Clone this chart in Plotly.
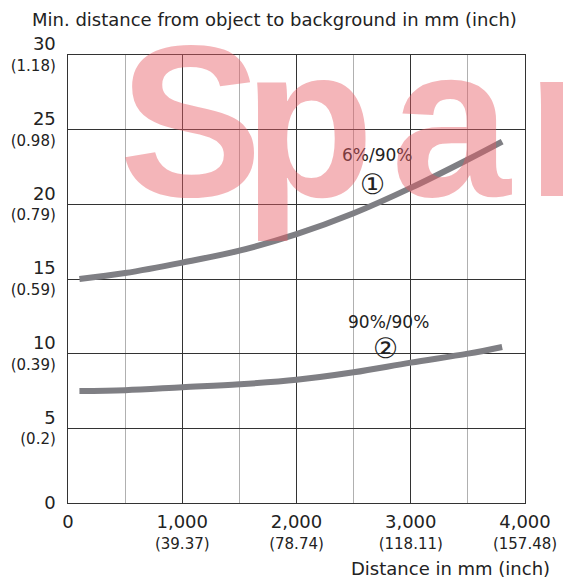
import plotly.graph_objects as go

# ---- data ----
x_curve1 = [100, 500, 1000, 1500, 2000, 2500, 3000, 3500, 3800]
y_curve1 = [15.0, 15.4, 16.1, 16.9, 18.0, 19.4, 21.1, 23.0, 24.2]
x_curve2 = [100, 500, 1000, 1500, 2000, 2500, 3000, 3500, 3800]
y_curve2 = [7.5, 7.55, 7.75, 7.95, 8.25, 8.75, 9.4, 10.0, 10.45]

x_tickvals = [0, 1000, 2000, 3000, 4000]
x_tick_mm = ["0", "1,000", "2,000", "3,000", "4,000"]
x_tick_in = ["", "(39.37)", "(78.74)", "(118.11)", "(157.48)"]
y_tickvals = [0, 5, 10, 15, 20, 25, 30]
y_tick_mm = ["0", "5", "10", "15", "20", "25", "30"]
y_tick_in = ["", "(0.2)", "(0.39)", "(0.59)", "(0.79)", "(0.98)", "(1.18)"]

label1 = "6%/90%"
label2 = "90%/90%"
num1 = "①"
num2 = "②"
watermark_letters = ["S", "p", "a", "r"]

FONT = "DejaVu Sans"
TXT = "#222222"
W, H = 563, 584
ML, MR, MT, MB = 68, 38, 55, 81
PW, PH = W - ML - MR, H - MT - MB


def px(x):
    return (x - ML) / PW


def py(y):
    return (H - MB - y) / PH


def two_line(a, b):
    main = f"<span style='font-size:18px'>{a}</span>"
    if not b:
        return main
    return f"{main}<br><span style='font-size:15px'>{b}</span>"


fig = go.Figure()
for xs, ys in [(x_curve1, y_curve1), (x_curve2, y_curve2)]:
    fig.add_trace(go.Scatter(
        x=xs, y=ys, mode="lines",
        line=dict(color="#7f7f84", width=6, shape="spline", smoothing=1.0),
        showlegend=False, hoverinfo="skip",
    ))

fig.update_layout(
    width=W, height=H,
    margin=dict(l=ML, r=MR, t=MT, b=MB, pad=0),
    paper_bgcolor="white", plot_bgcolor="white",
    font=dict(family=FONT, color=TXT, size=18),
    xaxis=dict(
        range=[0, 4000], tickmode="array", tickvals=x_tickvals,
        ticktext=[two_line(a, b) for a, b in zip(x_tick_mm, x_tick_in)],
        showgrid=True, gridcolor="#333333", gridwidth=1,
        minor=dict(tickmode="linear", tick0=0, dtick=500, showgrid=True,
                   gridcolor="#b0b0b0", gridwidth=1),
        showline=True, linecolor="#333333", linewidth=1, mirror=True,
        zeroline=False, ticks="", ticklabelstandoff=5, automargin=False,
        tickfont=dict(size=16, color=TXT),
    ),
    yaxis=dict(
        range=[0, 30], tickmode="array", tickvals=y_tickvals,
        ticktext=[two_line(a, b) for a, b in zip(y_tick_mm, y_tick_in)],
        showgrid=True, gridcolor="#333333", gridwidth=1,
        showline=True, linecolor="#333333", linewidth=1, mirror=True,
        zeroline=False, ticks="", ticklabelstandoff=8, automargin=False,
        tickfont=dict(size=16, color=TXT),
    ),
)

annos = [
    dict(text="Min. distance from object to background in mm (inch)",
         x=px(30), y=py(19), xanchor="left", yanchor="middle", font=dict(size=18)),
    dict(text="Distance in mm (inch)",
         x=px(552), y=py(568), xanchor="right", yanchor="middle", font=dict(size=18)),
    dict(text=label1, x=px(377), y=py(155), xanchor="center", yanchor="middle", font=dict(size=17)),
    dict(text=num1, x=px(372), y=py(184), xanchor="center", yanchor="middle", font=dict(size=28)),
    dict(text=label2, x=px(388), y=py(322), xanchor="center", yanchor="middle", font=dict(size=17)),
    dict(text=num2, x=px(385), y=py(348), xanchor="center", yanchor="middle", font=dict(size=28)),
]
for a in annos:
    fig.add_annotation(xref="paper", yref="paper", showarrow=False, **a)

# pink watermark on top
wm_centers = [190, 308, 451, 568]
for letter, cx in zip(watermark_letters, wm_centers):
    fig.add_annotation(
        text=f"<b>{letter}</b>", xref="paper", yref="paper", x=px(cx), y=py(122),
        xanchor="center", yanchor="middle", showarrow=False,
        font=dict(family="Liberation Sans", size=215, color="rgba(230,90,100,0.45)"),
    )

fig.write_html(
    "out.html",
    config={"displayModeBar": False},
    post_script="document.body.style.margin='0';document.body.style.overflow='hidden';",
)
